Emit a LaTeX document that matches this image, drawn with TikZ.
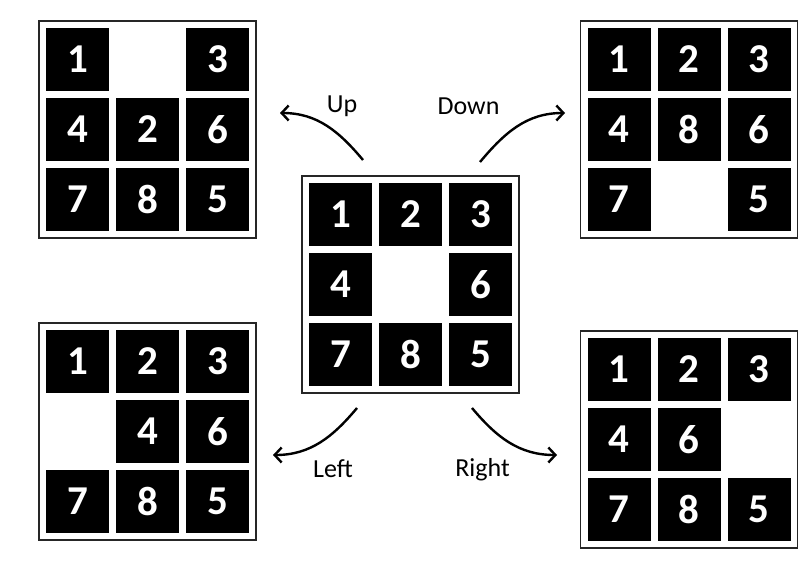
\documentclass[tikz,border=0pt]{standalone}
\usepackage{fontspec}
\setmainfont{Carlito}
\usetikzlibrary{arrows.meta}

\tikzset{
  frame/.style={draw=black!85, line width=1.2pt, minimum size=217pt, inner sep=0pt},
  tile/.style={fill=black, text=white, minimum size=63pt, inner sep=0pt,
    font=\fontsize{41}{44}\selectfont\bfseries},
  move/.style={->, >={Straight Barb[length=7pt,width=15pt]}, line width=2.4pt},
  lbl/.style={anchor=base, font=\fontsize{26}{28}\selectfont}
}

% one board: name, centre, tiles row by row (0 = empty)
\newcommand{\drawboard}[3]{%
  \node[frame] (#1) at (#2) {};
  \foreach \t [count=\k from 0] in {#3} {
    \pgfmathtruncatemacro{\tcol}{mod(\k,3)}
    \pgfmathtruncatemacro{\trow}{div(\k,3)}
    \ifnum\t>0
      \node[tile, xshift={(\tcol-1)*70pt}, yshift={(1-\trow)*70pt}] (#1-\t) at (#1) {\t};
    \fi
  }
}

\begin{document}
\begin{tikzpicture}[x=1pt,y=1pt]
\useasboundingbox (0,0) rectangle (810,566);

\drawboard{b0}{410.5,281.5}{1,2,3,4,0,6,7,8,5}
\drawboard{bup}{147.5,436.5}{1,0,3,4,2,6,7,8,5}
\drawboard{bdown}{689,436.5}{1,2,3,4,8,6,7,0,5}
\drawboard{bleft}{147.5,134.5}{1,2,3,0,4,6,7,8,5}
\drawboard{bright}{689,126.5}{1,2,3,4,6,0,7,8,5}

\coordinate (up0) at (363,406);
\coordinate (up1) at (280,453);
\coordinate (down0) at (480,404);
\coordinate (down1) at (565,453);
\coordinate (left0) at (357,158);
\coordinate (left1) at (273,111);
\coordinate (right0) at (472,158);
\coordinate (right1) at (557,111);

\path (up0) edge[move, out=130, in=0] (up1);
\path (down0) edge[move, out=50, in=180] (down1);
\path (left0) edge[move, out=-130, in=0] (left1);
\path (right0) edge[move, out=-50, in=180] (right1);

\node[lbl] (lup) at (342,453) {Up};
\node[lbl] (ldown) at (468.5,451) {Down};
\node[lbl] (lleft) at (333,89) {Left};
\node[lbl] (lright) at (482.5,90) {Right};
\end{tikzpicture}
\end{document}
